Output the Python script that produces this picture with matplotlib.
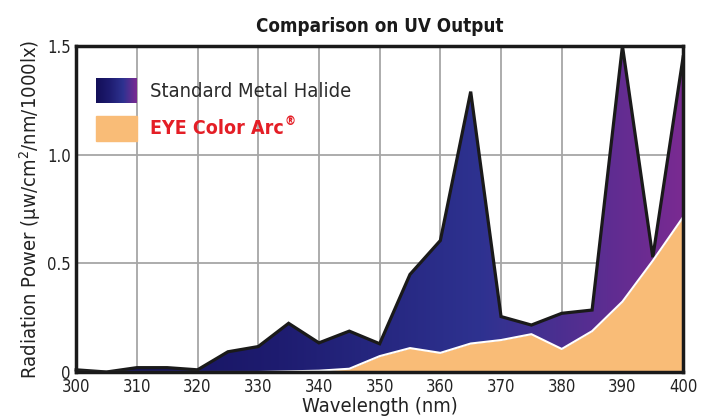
import numpy as np
import matplotlib.pyplot as plt
from matplotlib.colors import LinearSegmentedColormap
from matplotlib.patches import Rectangle

plt.rcParams['font.family'] = ['DejaVu Sans']
plt.rcParams['font.stretch'] = 'condensed'

wavelength = [300, 305, 310, 315, 320, 325, 330, 335, 340, 345, 350,
              355, 360, 365, 370, 375, 380, 385, 390, 395, 400]
metal_halide = [0.01, 0.0, 0.02, 0.02, 0.01, 0.093, 0.117, 0.224, 0.134, 0.188, 0.13,
                0.449, 0.605, 1.29, 0.255, 0.216, 0.27, 0.285, 1.5, 0.528, 1.45]
eye_color_arc = [0.0, 0.0, 0.0, 0.0, 0.0, 0.0, 0.0, 0.003, 0.006, 0.015, 0.073,
                 0.11, 0.088, 0.131, 0.147, 0.174, 0.106, 0.188, 0.324, 0.512, 0.713]
x_ticks = [300, 310, 320, 330, 340, 350, 360, 370, 380, 390, 400]
y_ticks = [0, 0.5, 1.0, 1.5]
y_tick_labels = ['0', '0.5', '1.0', '1.5']

grad = LinearSegmentedColormap.from_list('halide', ['#130F58', '#1E1C70', '#2E3290', '#7A2A92'])

fig = plt.figure(figsize=(7.05, 4.2), dpi=100)
ax = fig.add_axes([0.108, 0.1143, 0.861, 0.7762])

ax.set_xlim(300, 400)
ax.set_ylim(0, 1.5)

# grid
for xt in x_ticks:
    ax.axvline(xt, color='#A6A6A6', lw=1.3, zorder=0)
for yt in y_ticks:
    ax.axhline(yt, color='#A6A6A6', lw=1.3, zorder=0)

# gradient fill for metal halide
poly = ax.fill_between(wavelength, 0, metal_halide, color='none', lw=0)
img = ax.imshow(np.linspace(0, 1, 256).reshape(1, -1), cmap=grad, aspect='auto',
                extent=[300, 400, 0, 1.5], zorder=1)
img.set_clip_path(poly.get_paths()[0], transform=ax.transData)
ax.plot(wavelength, metal_halide, color='#1A1A1A', lw=2.3, zorder=3, clip_on=False,
        solid_joinstyle='miter')

# EYE Color Arc
ax.fill_between(wavelength, 0, eye_color_arc, color='#F9BC77', lw=0, zorder=4)
ax.plot(wavelength, eye_color_arc, color='white', lw=1.5, zorder=5)

ax.set_xticks(x_ticks)
ax.set_yticks(y_ticks)
ax.set_yticklabels(y_tick_labels)
ax.tick_params(length=0, labelsize=12, labelcolor='#222222', pad=4)
for s in ax.spines.values():
    s.set_linewidth(2.5)
    s.set_color('#1A1A1A')
    s.set_zorder(6)

ax.set_xlabel('Wavelength (nm)', fontsize=14.5, color='#222222', labelpad=1)
ax.set_ylabel('Radiation Power (\u03bcw/cm$^2$/nm/1000lx)', fontsize=14.5,
              color='#222222', labelpad=3)
ax.set_title('Comparison on UV Output', fontsize=13.5, fontweight='bold',
             color='#1A1A1A', pad=10)

# legend
lg = fig.add_axes([96 / 705, 1 - 103 / 420, 41 / 705, 25 / 420])
lg.imshow(np.linspace(0, 1, 64).reshape(1, -1), cmap=grad, aspect='auto')
lg.axis('off')
ax.add_patch(Rectangle((303.3, 1.065), 6.8, 0.113, color='#F9BC77', zorder=7))
ax.text(312.2, 1.29, 'Standard Metal Halide', fontsize=14.5, color='#2A2A2A',
        va='center', zorder=7)
t = ax.text(312.2, 1.12, 'EYE Color Arc', fontsize=14, color='#E41E26',
            fontweight='bold', va='center', zorder=7)
fig.canvas.draw()
bb = t.get_window_extent()
ax.annotate('\u00ae', xy=(bb.x1, bb.y1), xycoords='figure pixels',
            xytext=(0.5, 3), textcoords='offset points', fontsize=9,
            color='#E41E26', fontweight='bold', va='top', ha='left', zorder=7)

fig.savefig('out.png', dpi=100)
